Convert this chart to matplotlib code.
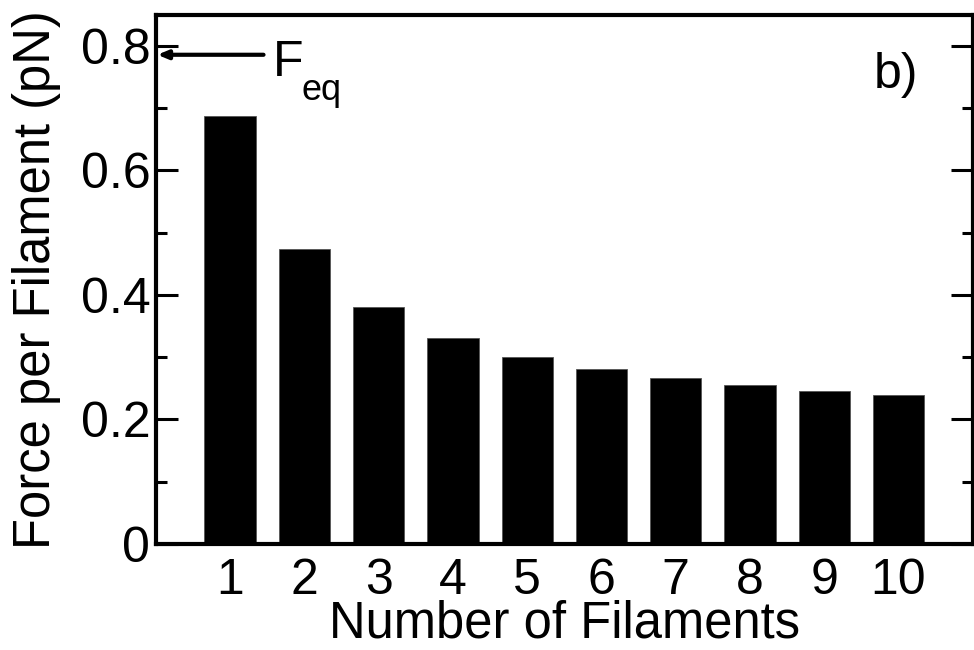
import matplotlib
matplotlib.use("Agg")
import matplotlib.pyplot as plt
from matplotlib.ticker import MultipleLocator

plt.rcParams['font.family'] = ['Liberation Sans', 'DejaVu Sans']

filaments = [1, 2, 3, 4, 5, 6, 7, 8, 9, 10]
force = [0.688, 0.474, 0.380, 0.331, 0.301, 0.281, 0.266, 0.255, 0.246, 0.239]
f_eq = 0.786
xticklabels = ['1', '2', '3', '4', '5', '6', '7', '8', '9', '10']
yticks = [0, 0.2, 0.4, 0.6, 0.8]
yticklabels = ['0', '0.2', '0.4', '0.6', '0.8']

fig = plt.figure(figsize=(9.74, 6.5), dpi=100)
ax = fig.add_axes([0.160, 0.1634, 0.8387, 0.8136])

ax.bar(filaments, force, width=0.69, color='black', edgecolor='#555555', linewidth=0.6)

ax.set_xlim(0, 11)
ax.set_ylim(0, 0.85)
ax.set_xticks(filaments)
ax.set_xticklabels(xticklabels)
ax.set_yticks(yticks)
ax.set_yticklabels(yticklabels)
ax.yaxis.set_minor_locator(MultipleLocator(0.1))

for s in ax.spines.values():
    s.set_linewidth(3)

ax.tick_params(axis='y', which='major', direction='in', length=16, width=2.2,
               left=True, right=True, labelsize=36, pad=4)
ax.tick_params(axis='y', which='minor', direction='in', length=8, width=2.2,
               left=True, right=True)
ax.tick_params(axis='x', which='both', length=0, labelsize=36, pad=10)

ax.set_xlabel('Number of Filaments', fontsize=36.5, labelpad=-3)
ax.set_ylabel('Force per Filament (pN)', fontsize=36.5, labelpad=14)

ax.annotate('', xy=(0.02, f_eq), xytext=(1.45, f_eq),
            arrowprops=dict(arrowstyle='-|>,head_length=0.6,head_width=0.25',
                            color='black', lw=3, shrinkA=0, shrinkB=0))
ax.text(1.58, 0.772, 'F', fontsize=36, ha='left', va='center')
ax.text(1.96, 0.728, 'eq', fontsize=26, ha='left', va='center')

ax.text(0.906, 0.887, 'b)', transform=ax.transAxes, fontsize=36, ha='center', va='center')

fig.savefig('out.png', dpi=100)
